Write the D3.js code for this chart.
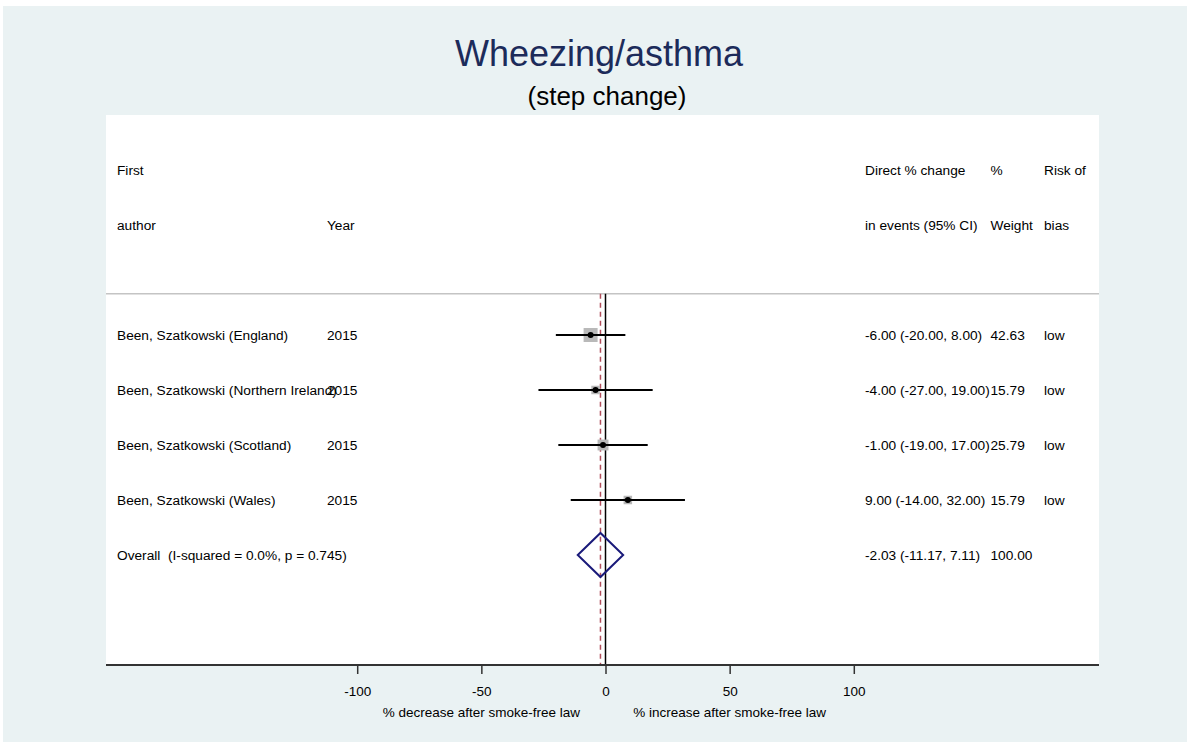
<!DOCTYPE html>
<html>
<head>
<meta charset="utf-8">
<script src="https://cdn.jsdelivr.net/npm/d3@7"></script>
<style>
  html, body { margin: 0; padding: 0; background: #ffffff; }
  svg { display: block; font-family: "Liberation Sans", Arial, Helvetica, sans-serif; }
  text { white-space: pre; }
</style>
</head>
<body>
<svg id="chart" width="1189" height="744"></svg>
<script>
// ---- Data ----
const studies = [
  "Been, Szatkowski (England)",
  "Been, Szatkowski (Northern Ireland)",
  "Been, Szatkowski (Scotland)",
  "Been, Szatkowski (Wales)"
];
const years = ["2015", "2015", "2015", "2015"];
const estimates = [-6.00, -4.00, -1.00, 9.00];
const lower = [-20.00, -27.00, -19.00, -14.00];
const upper = [8.00, 19.00, 17.00, 32.00];
const weights = [42.63, 15.79, 25.79, 15.79];
const riskOfBias = ["low", "low", "low", "low"];
const overallLabel = "Overall  (I-squared = 0.0%, p = 0.745)";
const overallEst = -2.03, overallLo = -11.17, overallHi = 7.11, overallWeight = 100.00;
const xTicks = [-100, -50, 0, 50, 100];
const headerLeft1 = ["First", ""];
const headerLeft2 = ["author", "Year"];
const headerRight1 = ["Direct % change", "%", "Risk of"];
const headerRight2 = ["in events (95% CI)", "Weight", "bias"];
const title = "Wheezing/asthma";
const subtitle = "(step change)";
const axisTitleLeft = "% decrease after smoke-free law";
const axisTitleRight = "% increase after smoke-free law";

// ---- Layout ----
const svg = d3.select("#chart");
const W = 1189, H = 744;
const plot = { x0: 106, x1: 1099, y0: 115, y1: 665 };

svg.append("rect").attr("x", 0).attr("y", 0).attr("width", W).attr("height", H).attr("fill", "#ffffff");
svg.append("rect").attr("x", 3).attr("y", 6).attr("width", 1184).attr("height", 736).attr("fill", "#eaf2f3");
svg.append("rect").attr("x", plot.x0).attr("y", plot.y0).attr("width", plot.x1 - plot.x0).attr("height", plot.y1 - plot.y0).attr("fill", "#ffffff");

const x = d3.scaleLinear().domain([-100, 100]).range([357.2, 853.8]);
const y = d3.scaleLinear().domain([-1, 9]).range([plot.y0, plot.y1]);
const size = d3.scaleSqrt().domain([0, d3.max(weights)]).range([0, 14]);
const loc = d3.formatLocale({ decimal: ".", thousands: ",", grouping: [3], currency: ["", ""], minus: "-" });
const f2 = loc.format(".2f");
const fd = loc.format("d");

const fs = 13.7;
const colName = 117, colYear = 327, colStat = 865, colW = 990.5, colRisk = 1044;

// Title
svg.append("text").attr("x", 599).attr("y", 66).attr("text-anchor", "middle")
  .attr("font-size", 36).attr("fill", "#1c2b5a").text(title);
svg.append("text").attr("x", 607).attr("y", 105).attr("text-anchor", "middle")
  .attr("font-size", 26).attr("fill", "#000").text(subtitle);

// Headers
function txt(xp, row, s, anchor) {
  svg.append("text").attr("x", xp).attr("y", y(row)).attr("dy", "0.35em")
    .attr("font-size", fs).attr("fill", "#000").attr("text-anchor", anchor || "start").text(s);
}
txt(colName, 0, headerLeft1[0]);
txt(colYear, 0, headerLeft1[1]);
txt(colName, 1, headerLeft2[0]);
txt(colYear, 1, headerLeft2[1]);
txt(colStat, 0, headerRight1[0]);
txt(colW, 0, headerRight1[1]);
txt(colRisk, 0, headerRight1[2]);
txt(colStat, 1, headerRight2[0]);
txt(colW, 1, headerRight2[1]);
txt(colRisk, 1, headerRight2[2]);

// Separator
svg.append("line").attr("x1", plot.x0).attr("x2", plot.x1).attr("y1", y(2.25)).attr("y2", y(2.25))
  .attr("stroke", "#c4c4c4").attr("stroke-width", 1.5);

// Null line and overall line
svg.append("line").attr("x1", x(0)).attr("x2", x(0)).attr("y1", y(2.25)).attr("y2", plot.y1)
  .attr("stroke", "#000").attr("stroke-width", 1.5);
svg.append("line").attr("x1", x(overallEst)).attr("x2", x(overallEst)).attr("y1", y(2.25)).attr("y2", plot.y1)
  .attr("stroke", "#b24f5c").attr("stroke-width", 1.5).attr("stroke-dasharray", "5,4");

// Study rows
studies.forEach((s, i) => {
  const row = 3 + i;
  const cy = y(row);
  const side = size(weights[i]);
  svg.append("rect").attr("x", x(estimates[i]) - side / 2).attr("y", cy - side / 2)
    .attr("width", side).attr("height", side).attr("fill", "#b9b9b9");
  svg.append("line").attr("x1", x(lower[i])).attr("x2", x(upper[i])).attr("y1", cy).attr("y2", cy)
    .attr("stroke", "#000").attr("stroke-width", 2);
  svg.append("circle").attr("cx", x(estimates[i])).attr("cy", cy).attr("r", 3).attr("fill", "#000");
  txt(colName, row, s);
  txt(colYear, row, years[i]);
  txt(colStat, row, `${f2(estimates[i])} (${f2(lower[i])}, ${f2(upper[i])})`);
  txt(colW, row, f2(weights[i]));
  txt(colRisk, row, riskOfBias[i]);
});

// Overall
const oy = y(7);
const dh = 22;
svg.append("path")
  .attr("d", `M${x(overallLo)},${oy} L${x(overallEst)},${oy - dh} L${x(overallHi)},${oy} L${x(overallEst)},${oy + dh} Z`)
  .attr("fill", "none").attr("stroke", "#1a1a7a").attr("stroke-width", 2);
txt(colName, 7, overallLabel);
txt(colStat, 7, `${f2(overallEst)} (${f2(overallLo)}, ${f2(overallHi)})`);
txt(colW, 7, f2(overallWeight));

// Axis
const axisG = svg.append("g").attr("transform", `translate(0,${plot.y1})`);
axisG.append("line").attr("x1", plot.x0).attr("x2", plot.x1).attr("y1", 0).attr("y2", 0)
  .attr("stroke", "#333").attr("stroke-width", 2);
const ax = d3.axisBottom(x).tickValues(xTicks).tickSize(9).tickPadding(12).tickFormat(fd);
const axSel = axisG.append("g").call(ax);
axSel.select(".domain").remove();
axSel.selectAll(".tick line").attr("stroke", "#333").attr("stroke-width", 1.5);
axSel.selectAll(".tick text").attr("font-size", 13.5).attr("fill", "#000")
  .attr("font-family", "Liberation Sans, Arial, sans-serif");

svg.append("text").attr("x", x(-50)).attr("y", 712).attr("dy", "0.35em").attr("text-anchor", "middle")
  .attr("font-size", 13.5).attr("fill", "#000").text(axisTitleLeft);
svg.append("text").attr("x", x(50)).attr("y", 712).attr("dy", "0.35em").attr("text-anchor", "middle")
  .attr("font-size", 13.5).attr("fill", "#000").text(axisTitleRight);
</script>
</body>
</html>
